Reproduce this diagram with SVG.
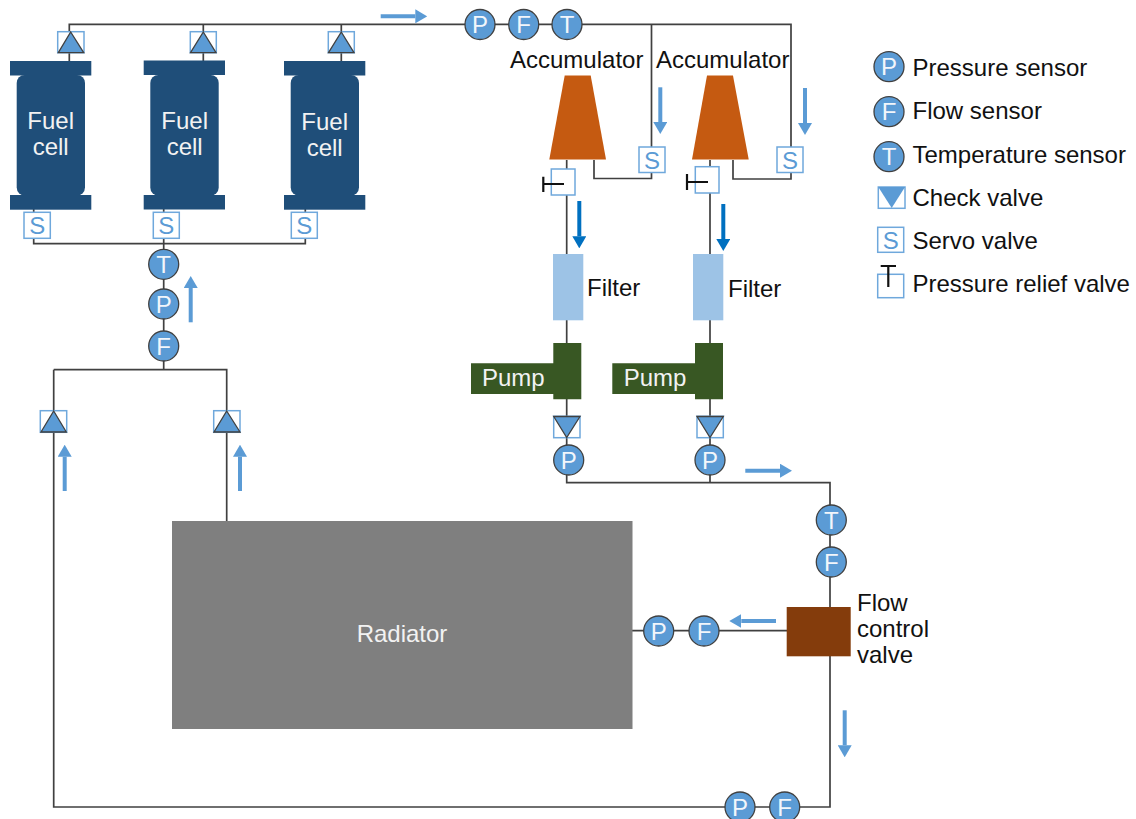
<svg xmlns="http://www.w3.org/2000/svg" width="1136" height="819" viewBox="0 0 1136 819">
<style>
text{font-family:"Liberation Sans",Arial,sans-serif;font-size:24px;fill:#111}
.w{fill:#f2f2f2}
.mid{text-anchor:middle}
.pipe{fill:none;stroke:#404040;stroke-width:1.7}
.sen{fill:#5b9bd5;stroke:#404040;stroke-width:1.3}
.sl{fill:#f2f6fb;text-anchor:middle}
.box{fill:#fff;stroke:#6fa8dc;stroke-width:1.5}
.sv{fill:#5b9bd5;text-anchor:middle}
.tri{fill:#5b9bd5;stroke:#404040;stroke-width:1.3;stroke-linejoin:miter}
.cell{fill:#1f4e79}
.acc{fill:#c55a11}
.fil{fill:#9dc3e6}
.pump{fill:#385723}
.hnd{fill:none;stroke:#111;stroke-width:2.2}
.fa{stroke:#5b9bd5;stroke-width:4;fill:none;marker-end:url(#ha)}
.fb{stroke:#0070c0;stroke-width:4;fill:none;marker-end:url(#hb)}
</style>
<defs>
<marker id="ha" markerUnits="userSpaceOnUse" markerWidth="12" markerHeight="14" refX="0" refY="7" orient="auto"><path d="M0 0L12 7L0 14Z" fill="#5b9bd5"/></marker>
<marker id="hb" markerUnits="userSpaceOnUse" markerWidth="12" markerHeight="14" refX="0" refY="7" orient="auto"><path d="M0 0L12 7L0 14Z" fill="#0070c0"/></marker>
</defs>
<g id="connectors">
<path class="pipe" d="M69.3 61V24.3H791V179H733V160"/>
<path class="pipe" d="M203.3 24.3V61M341.3 24.3V61"/>
<path class="pipe" d="M651.5 24.3V178.5H594V160"/>
<path class="pipe" d="M33.7 209V243.7H305.3V209M163.7 209V370M53.7 369.7H226.7V521M53.7 369.7V807H830V482.7H566.7V160M710 482.7V160"/>
<path class="pipe" d="M632 630.7H787"/>
<line class="fa" x1="380.7" y1="16.3" x2="415.3" y2="16.3"/>
<line class="fa" x1="660.3" y1="87.3" x2="660.3" y2="122"/>
<line class="fa" x1="805" y1="88" x2="805" y2="123"/>
<line class="fb" x1="579.3" y1="201" x2="579.3" y2="236.3"/>
<line class="fb" x1="723.3" y1="204" x2="723.3" y2="239"/>
<line class="fa" x1="745.3" y1="470.7" x2="780" y2="470.7"/>
<line class="fa" x1="776" y1="621" x2="741.3" y2="621"/>
<line class="fa" x1="844.7" y1="710.3" x2="844.7" y2="745.3"/>
<line class="fa" x1="190.7" y1="322.3" x2="190.7" y2="288"/>
<line class="fa" x1="64.7" y1="491" x2="64.7" y2="456.7"/>
<line class="fa" x1="240" y1="491" x2="240" y2="456.7"/>
</g>
<g id="fuel-cell-1"><rect class="cell" x="10" y="61" width="81.3" height="14.5"/><rect class="cell" x="16.7" y="75" width="68.3" height="120.5" rx="8"/><rect class="cell" x="10" y="195" width="81.3" height="14.7"/><text class="w mid" x="50.7" y="129">Fuel</text><text class="w mid" x="50.7" y="155">cell</text></g>
<g id="fuel-cell-2"><rect class="cell" x="143.7" y="60.5" width="81.3" height="14.5"/><rect class="cell" x="150.3" y="75" width="68.4" height="120.5" rx="8"/><rect class="cell" x="143.7" y="195" width="81.3" height="14.5"/><text class="w mid" x="184.7" y="129">Fuel</text><text class="w mid" x="184.7" y="155">cell</text></g>
<g id="fuel-cell-3"><rect class="cell" x="284" y="61" width="81.3" height="14.5"/><rect class="cell" x="290.7" y="75" width="68.3" height="120.5" rx="8"/><rect class="cell" x="284" y="195" width="81.3" height="14.7"/><text class="w mid" x="324.7" y="129.5">Fuel</text><text class="w mid" x="324.7" y="155.5">cell</text></g>
<g id="check-top-1"><rect class="box" x="57.7" y="31.7" width="26.3" height="21"/><path class="tri" d="M70.7 32L83.7 52.7H58.3Z"/></g>
<g id="check-top-2"><rect class="box" x="190.3" y="31.7" width="26" height="21"/><path class="tri" d="M203.3 32L216 52.7H190.5Z"/></g>
<g id="check-top-3"><rect class="box" x="328.3" y="31.7" width="26" height="21"/><path class="tri" d="M341.3 32L354 52.7H328.5Z"/></g>
<g id="servo-1"><rect class="box" x="24" y="212.3" width="26.3" height="26"/><text class="sv" x="37.2" y="234">S</text></g>
<g id="servo-2"><rect class="box" x="153.3" y="212.3" width="26" height="26"/><text class="sv" x="166.3" y="234">S</text></g>
<g id="servo-3"><rect class="box" x="291.3" y="212.3" width="26" height="26"/><text class="sv" x="304.3" y="234">S</text></g>
<g id="sensor-t-1"><circle class="sen" cx="163.7" cy="264.3" r="15"/><text class="sl" x="163.7" y="273">T</text></g>
<g id="sensor-p-1"><circle class="sen" cx="163.7" cy="304" r="15"/><text class="sl" x="163.7" y="312.5">P</text></g>
<g id="sensor-f-1"><circle class="sen" cx="163.7" cy="346" r="15"/><text class="sl" x="163.7" y="354.5">F</text></g>
<g id="check-left"><rect class="box" x="40.3" y="410.7" width="26.4" height="21.6"/><path class="tri" d="M53.7 411L66.3 432H41Z"/></g>
<g id="check-right"><rect class="box" x="213.7" y="410.7" width="26.3" height="21.6"/><path class="tri" d="M226.7 411L240 432H214Z"/></g>
<g id="sensor-p-2"><circle class="sen" cx="480" cy="24.5" r="15"/><text class="sl" x="480" y="33">P</text></g>
<g id="sensor-f-2"><circle class="sen" cx="523.7" cy="24.5" r="15"/><text class="sl" x="523.7" y="33">F</text></g>
<g id="sensor-t-2"><circle class="sen" cx="567" cy="24.5" r="15"/><text class="sl" x="567" y="33">T</text></g>
<g id="accumulator-1"><path class="acc" d="M564.7 75.5H590.7L606 159.5H549.3Z"/><text x="510" y="67.7">Accumulator</text></g>
<g id="accumulator-2"><path class="acc" d="M707 75.5H733L748.7 159.5H692Z"/><text x="656" y="67.7">Accumulator</text></g>
<g id="servo-4"><rect class="box" x="639" y="147" width="26" height="25.5"/><text class="sv" x="652" y="168.5">S</text></g>
<g id="servo-5"><rect class="box" x="777" y="147" width="26" height="25.5"/><text class="sv" x="790" y="168.5">S</text></g>
<g id="relief-1"><rect class="box" x="551.3" y="169" width="23.7" height="26"/><path class="hnd" d="M543.3 176.7V192M543.3 184H564"/></g>
<g id="relief-2"><rect class="box" x="695.3" y="166.7" width="23.7" height="26.3"/><path class="hnd" d="M687 174V190M687 182H708"/></g>
<g id="filter-1"><rect class="fil" x="553" y="254" width="30.3" height="66.3"/><text x="587" y="295.5">Filter</text></g>
<g id="filter-2"><rect class="fil" x="693" y="254" width="30.3" height="66.3"/><text x="728" y="296.5">Filter</text></g>
<g id="pump-1"><path class="pump" d="M553.3 343H581.3V399.3H553.3V394H471V363.3H553.3Z"/><text class="w" x="482" y="386">Pump</text></g>
<g id="pump-2"><path class="pump" d="M695 343H723V399.3H695V394H612.3V363.3H695Z"/><text class="w" x="623.7" y="386">Pump</text></g>
<g id="check-3"><rect class="box" x="553.7" y="416.3" width="26.3" height="21.4"/><path class="tri" d="M553.7 416.5H580L566.7 437.5Z"/></g>
<g id="check-4"><rect class="box" x="697" y="416.3" width="26.3" height="21.4"/><path class="tri" d="M697 416.5H723.3L710 437.5Z"/></g>
<g id="sensor-p-3"><circle class="sen" cx="568.7" cy="460" r="15"/><text class="sl" x="568.7" y="468.5">P</text></g>
<g id="sensor-p-4"><circle class="sen" cx="710" cy="460" r="15"/><text class="sl" x="710" y="468.5">P</text></g>
<g id="sensor-t-3"><circle class="sen" cx="831.3" cy="520" r="15"/><text class="sl" x="831.3" y="528.5">T</text></g>
<g id="sensor-f-3"><circle class="sen" cx="831.3" cy="562" r="15"/><text class="sl" x="831.3" y="570.5">F</text></g>
<g id="flow-control-valve"><rect x="786.7" y="607" width="64" height="49.3" fill="#843c0c"/><text x="857" y="610.5">Flow</text><text x="857" y="637">control</text><text x="857" y="663">valve</text></g>
<g id="sensor-p-5"><circle class="sen" cx="658.7" cy="631" r="15"/><text class="sl" x="658.7" y="639.5">P</text></g>
<g id="sensor-f-4"><circle class="sen" cx="704" cy="631" r="15"/><text class="sl" x="704" y="639.5">F</text></g>
<g id="radiator"><rect x="172" y="521" width="460.5" height="208" fill="#7f7f7f"/><text class="w mid" x="402" y="641.5">Radiator</text></g>
<g id="sensor-p-6"><circle class="sen" cx="740" cy="807" r="15"/><text class="sl" x="740" y="815.5">P</text></g>
<g id="sensor-f-5"><circle class="sen" cx="784.7" cy="807" r="15"/><text class="sl" x="784.7" y="815.5">F</text></g>
<g id="legend-pressure"><circle class="sen" cx="889" cy="66.7" r="15"/><text class="sl" x="889" y="75.2">P</text><text x="912.5" y="75.7">Pressure sensor</text></g>
<g id="legend-flow"><circle class="sen" cx="889" cy="111.7" r="15"/><text class="sl" x="889" y="120.2">F</text><text x="912.5" y="119">Flow sensor</text></g>
<g id="legend-temperature"><circle class="sen" cx="889" cy="156.7" r="15"/><text class="sl" x="889" y="165.2">T</text><text x="912.5" y="162.5">Temperature sensor</text></g>
<g id="legend-check"><rect class="box" x="878.3" y="187" width="26.7" height="21.3"/><path d="M878.3 187H905L891.7 208Z" fill="#5b9bd5"/><text x="912.5" y="205.7">Check valve</text></g>
<g id="legend-servo"><rect class="box" x="877.7" y="227.3" width="26" height="25"/><text class="sv" x="890.7" y="248.5">S</text><text x="912.5" y="249">Servo valve</text></g>
<g id="legend-relief"><rect class="box" x="877.7" y="274.3" width="26" height="23.4"/><path class="hnd" d="M880.7 266H896M888.3 266V287"/><text x="912.5" y="291.7">Pressure relief valve</text></g>
</svg>
